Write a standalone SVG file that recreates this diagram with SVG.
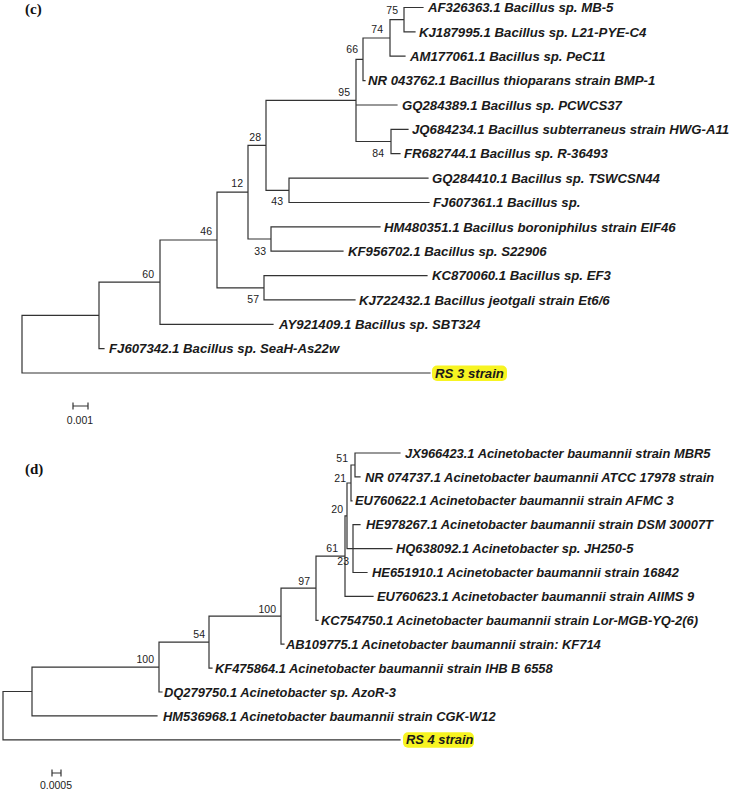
<svg xmlns="http://www.w3.org/2000/svg" width="738" height="792" viewBox="0 0 738 792">
<style>
.br{fill:none;stroke:#333;stroke-width:1.2;stroke-linecap:square}
.lf{font-family:"Liberation Sans",Arial,sans-serif;font-weight:bold;font-style:italic;font-size:13.2px;fill:#1a1a1a}
.lfd{font-family:"Liberation Sans",Arial,sans-serif;font-weight:bold;font-style:italic;font-size:12.9px;fill:#1a1a1a}
.bs{font-family:"Liberation Sans",Arial,sans-serif;font-size:10.5px;fill:#222;text-anchor:end}
.sc{font-family:"Liberation Sans",Arial,sans-serif;font-size:10.5px;fill:#222;text-anchor:middle}
.pl{font-family:"Liberation Serif","Times New Roman",serif;font-weight:bold;font-size:15px;fill:#111}
.hl{fill:#f7f422}
</style>
<rect width="738" height="792" fill="#fff"/>
<text class="pl" x="25" y="14">(c)</text>
<text class="pl" x="25" y="474">(d)</text>
<g id="connectors">
<path class="br" d="M22,315.4V373M22,315.4H99M99,282.2V348.7M99,348.7H104M99,282.2H160M160,240V324.3M160,324.3H273M160,240H217M217,192.2V287.8M217,287.8H264M264,275.6V299.9M264,275.6H427M264,299.9H355M217,192.2H248M248,145.4V239M248,239H271M271,226.8V251.2M271,226.8H380M271,251.2H343M248,145.4H266M266,100.4V190.3M266,190.3H289M289,178.1V202.5M289,178.1H428M289,202.5H429M266,100.4H356M356,59.3V141.5M356,105H397M356,141.5H391M391,129.3V153.7M391,129.3H408M391,153.7H400M356,59.3H363M363,38V80.6M363,80.6H365M363,38H390M390,19.7V56.2M390,56.2H405M390,19.7H404M404,7.5V31.9M404,7.5H423M404,31.9H415M22,373H430"/>
<path class="br" d="M73,406H88M73,403V409M88,403V409"/>
<path class="br" d="M3,691.5V739.8M3,739.8H400M3,691.5H32M32,667.1V715.9M32,715.9H157M32,667.1H159M159,642.2V692M159,692H162M159,642.2H209M209,616.2V668.1M209,668.1H212M209,616.2H281M281,588.2V644.2M281,644.2H284M281,588.2H316M316,556.1V620.3M316,620.3H318M316,556.1H345M345,515.8V596.4M345,596.4H373M345,515.8H347M347,483V548.6M347,548.6H353M353,524.7V572.5M353,524.7H360M353,548.6H392M353,572.5H367M347,483H351M351,465V500.8M351,500.8H352M351,465H355M355,453V476.9M355,453H400M355,476.9H360"/>
<path class="br" d="M52,773H61M52,770V776M61,770V776"/>
</g>
<g id="tree-c-leaves">
<g id="c_AF326363"><text class="lf" x="428" y="12.2">AF326363.1 Bacillus sp. MB-5</text></g>
<g id="c_KJ187995"><text class="lf" x="419" y="36.6">KJ187995.1 Bacillus sp. L21-PYE-C4</text></g>
<g id="c_AM177061"><text class="lf" x="410" y="60.9">AM177061.1 Bacillus sp. PeC11</text></g>
<g id="c_NR043762"><text class="lf" x="368" y="85.3">NR 043762.1 Bacillus thioparans strain BMP-1</text></g>
<g id="c_GQ284389"><text class="lf" x="402" y="109.7">GQ284389.1 Bacillus sp. PCWCS37</text></g>
<g id="c_JQ684234"><text class="lf" x="412" y="134">JQ684234.1 Bacillus subterraneus strain HWG-A11</text></g>
<g id="c_FR682744"><text class="lf" x="404" y="158.4">FR682744.1 Bacillus sp. R-36493</text></g>
<g id="c_GQ284410"><text class="lf" x="432" y="182.8">GQ284410.1 Bacillus sp. TSWCSN44</text></g>
<g id="c_FJ607361"><text class="lf" x="433" y="207.2">FJ607361.1 Bacillus sp.</text></g>
<g id="c_HM480351"><text class="lf" x="384" y="231.5">HM480351.1 Bacillus boroniphilus strain EIF46</text></g>
<g id="c_KF956702"><text class="lf" x="348" y="255.9">KF956702.1 Bacillus sp. S22906</text></g>
<g id="c_KC870060"><text class="lf" x="432" y="280.3">KC870060.1 Bacillus sp. EF3</text></g>
<g id="c_KJ722432"><text class="lf" x="359" y="304.6">KJ722432.1 Bacillus jeotgali strain Et6/6</text></g>
<g id="c_AY921409"><text class="lf" x="279" y="329">AY921409.1 Bacillus sp. SBT324</text></g>
<g id="c_FJ607342"><text class="lf" x="109" y="353.4">FJ607342.1 Bacillus sp. SeaH-As22w</text></g>
<g id="c_RS3"><rect class="hl" x="432" y="365.5" width="75" height="15.5" rx="5"/><text class="lf" x="435" y="377.7">RS 3 strain</text></g>
</g>
<g id="tree-c-bootstrap">
<text class="bs" x="398" y="14">75</text>
<text class="bs" x="383" y="33">74</text>
<text class="bs" x="358" y="53">66</text>
<text class="bs" x="350" y="96">95</text>
<text class="bs" x="384" y="157">84</text>
<text class="bs" x="261" y="141">28</text>
<text class="bs" x="283" y="205">43</text>
<text class="bs" x="243" y="187">12</text>
<text class="bs" x="266" y="255">33</text>
<text class="bs" x="212" y="235">46</text>
<text class="bs" x="259" y="303">57</text>
<text class="bs" x="154" y="278">60</text>
<text class="sc" x="80" y="424">0.001</text>
</g>
<g id="tree-d-leaves">
<g id="d_JX966423"><text class="lfd" x="405" y="457.6">JX966423.1 Acinetobacter baumannii strain MBR5</text></g>
<g id="d_NR074737"><text class="lfd" x="365" y="481.5">NR 074737.1 Acinetobacter baumannii ATCC 17978 strain</text></g>
<g id="d_EU760622"><text class="lfd" x="355" y="505.4">EU760622.1 Acinetobacter baumannii strain AFMC 3</text></g>
<g id="d_HE978267"><text class="lfd" x="366" y="529.3">HE978267.1 Acinetobacter baumannii strain DSM 30007T</text></g>
<g id="d_HQ638092"><text class="lfd" x="396" y="553.2">HQ638092.1 Acinetobacter sp. JH250-5</text></g>
<g id="d_HE651910"><text class="lfd" x="372" y="577.1">HE651910.1 Acinetobacter baumannii strain 16842</text></g>
<g id="d_EU760623"><text class="lfd" x="377" y="601">EU760623.1 Acinetobacter baumannii strain AIIMS 9</text></g>
<g id="d_KC754750"><text class="lfd" x="321" y="624.9">KC754750.1 Acinetobacter baumannii strain Lor-MGB-YQ-2(6)</text></g>
<g id="d_AB109775"><text class="lfd" x="286" y="648.8">AB109775.1 Acinetobacter baumannii strain: KF714</text></g>
<g id="d_KF475864"><text class="lfd" x="215" y="672.7">KF475864.1 Acinetobacter baumannii strain IHB B 6558</text></g>
<g id="d_DQ279750"><text class="lfd" x="164" y="696.6">DQ279750.1 Acinetobacter sp. AzoR-3</text></g>
<g id="d_HM536968"><text class="lfd" x="163" y="720.5">HM536968.1 Acinetobacter baumannii strain CGK-W12</text></g>
<g id="d_RS4"><rect class="hl" x="403" y="732.3" width="71" height="15.5" rx="5"/><text class="lfd" x="406" y="744.4">RS 4 strain</text></g>
</g>
<g id="tree-d-bootstrap">
<text class="bs" x="348" y="462">51</text>
<text class="bs" x="346" y="482">21</text>
<text class="bs" x="343" y="513">20</text>
<text class="bs" x="338" y="552">61</text>
<text class="bs" x="349" y="565">23</text>
<text class="bs" x="310" y="585">97</text>
<text class="bs" x="276" y="613">100</text>
<text class="bs" x="205" y="638">54</text>
<text class="bs" x="154" y="663">100</text>
<text class="sc" x="56" y="789">0.0005</text>
</g>
</svg>
